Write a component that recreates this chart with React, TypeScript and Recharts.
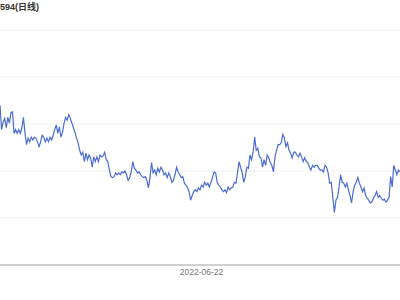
import React from 'react';
import { LineChart, Line, XAxis, YAxis, CartesianGrid } from 'recharts';

// daily closes, up to and including the labelled day
const pricesBefore = [
  1.170, 1.144, 1.152, 1.156, 1.146, 1.157, 1.151, 1.162, 1.163, 1.140,
  1.144, 1.140, 1.144, 1.140, 1.146, 1.157, 1.140, 1.128, 1.135, 1.131,
  1.136, 1.133, 1.136, 1.135, 1.131, 1.126, 1.131, 1.138, 1.136, 1.131,
  1.135, 1.131, 1.136, 1.133, 1.138, 1.144, 1.149, 1.140, 1.147, 1.136,
  1.141, 1.151, 1.157, 1.154, 1.160, 1.156, 1.151, 1.146, 1.141, 1.135,
  1.130, 1.122, 1.117, 1.120, 1.110, 1.119, 1.112, 1.117, 1.114, 1.104,
  1.115, 1.110, 1.115, 1.110, 1.117, 1.115, 1.116, 1.120, 1.112, 1.110,
  1.101, 1.094, 1.093, 1.094, 1.098, 1.096, 1.098, 1.096, 1.099, 1.098,
  1.100, 1.096, 1.090, 1.093, 1.099, 1.110, 1.103, 1.101, 1.098, 1.099,
  1.096, 1.094, 1.093, 1.094, 1.090, 1.082, 1.093, 1.109, 1.098, 1.101,
  1.096, 1.103, 1.099, 1.104, 1.101, 1.096, 1.098, 1.093, 1.098, 1.094,
  1.088, 1.090, 1.096, 1.104, 1.099, 1.096, 1.093, 1.094, 1.087, 1.085,
  1.082, 1.078, 1.069, 1.074, 1.078, 1.080, 1.078, 1.082, 1.080, 1.085,
];

// daily closes after the labelled day
const pricesAfter = [
  1.083, 1.088, 1.085, 1.087, 1.083, 1.088, 1.093, 1.099, 1.098, 1.088,
  1.085, 1.083, 1.080, 1.078, 1.080, 1.077, 1.083, 1.080, 1.082, 1.083,
  1.088, 1.087, 1.098, 1.110, 1.104, 1.098, 1.088, 1.094, 1.104, 1.103,
  1.117, 1.112, 1.120, 1.136, 1.122, 1.124, 1.115, 1.114, 1.104, 1.112,
  1.106, 1.117, 1.114, 1.109, 1.106, 1.099, 1.115, 1.122, 1.128,
  1.128, 1.130, 1.139, 1.135, 1.126, 1.130, 1.122, 1.119, 1.114,
  1.120, 1.120, 1.117, 1.115, 1.119, 1.115, 1.110, 1.114, 1.110,
  1.109, 1.104, 1.101, 1.106, 1.104, 1.106, 1.106, 1.103, 1.101,
  1.101, 1.099, 1.106, 1.104, 1.098, 1.087, 1.088, 1.072, 1.056,
  1.069, 1.072, 1.083, 1.096, 1.088, 1.087, 1.083, 1.087, 1.080, 1.074,
  1.066, 1.078, 1.085, 1.088, 1.093, 1.087, 1.083, 1.078, 1.082,
  1.074, 1.071, 1.069, 1.066, 1.067, 1.071, 1.074, 1.078, 1.072,
  1.074, 1.071, 1.069, 1.070, 1.067, 1.069, 1.072, 1.094, 1.083,
  1.106, 1.101, 1.096, 1.101, 1.099,
];

const labelDate = '2022-06-22';
const xTicks = [labelDate];
const yTicks = [1.0, 1.05, 1.1, 1.15, 1.2, 1.25];
const title = '594(日线)';

// trading days (weekdays) on either side of the labelled day
const fmt = (d: Date) => d.toISOString().slice(0, 10);
const stepDays = (from: string, n: number, dir: number) => {
  const out: string[] = [];
  const d = new Date(from + 'T00:00:00Z');
  while (out.length < n) {
    d.setUTCDate(d.getUTCDate() + dir);
    const wd = d.getUTCDay();
    if (wd !== 0 && wd !== 6) out.push(fmt(d));
  }
  return out;
};

const datesBefore = stepDays(labelDate, pricesBefore.length - 1, -1).reverse().concat(labelDate);
const datesAfter = stepDays(labelDate, pricesAfter.length, 1);

const data = [
  ...pricesBefore.map((close, i) => ({ date: datesBefore[i], close })),
  ...pricesAfter.map((close, i) => ({ date: datesAfter[i], close })),
];

export default function App() {
  return (
    <div style={{ position: 'absolute', left: 0, top: 0, width: 400, height: 300, background: '#fff', overflow: 'hidden' }}>
      <div
        style={{
          position: 'absolute',
          left: 0,
          top: 1,
          fontSize: 9,
          lineHeight: '13px',
          fontWeight: 'bold',
          color: '#333',
          fontFamily: '"Liberation Sans", "Noto Sans CJK SC", sans-serif',
          whiteSpace: 'nowrap',
        }}
      >
        {title}
      </div>
      <LineChart width={400} height={300} data={data} margin={{ top: 30, right: 0, bottom: 15, left: 0 }}>
        <CartesianGrid vertical={false} stroke="#eef0f6" />
        <XAxis
          dataKey="date"
          ticks={xTicks}
          interval={0}
          height={20}
          tickLine={false}
          tickSize={0}
          tickMargin={4}
          axisLine={{ stroke: '#aaaaaa' }}
          tick={{ fill: '#777', fontSize: 8.5, fontFamily: '"Liberation Sans", sans-serif' }}
        />
        <YAxis hide domain={[1.0, 1.25]} ticks={yTicks} />
        <Line
          type="linear"
          dataKey="close"
          stroke="#4a6bd0"
          strokeWidth={1.2}
          dot={false}
          isAnimationActive={false}
        />
      </LineChart>
    </div>
  );
}
